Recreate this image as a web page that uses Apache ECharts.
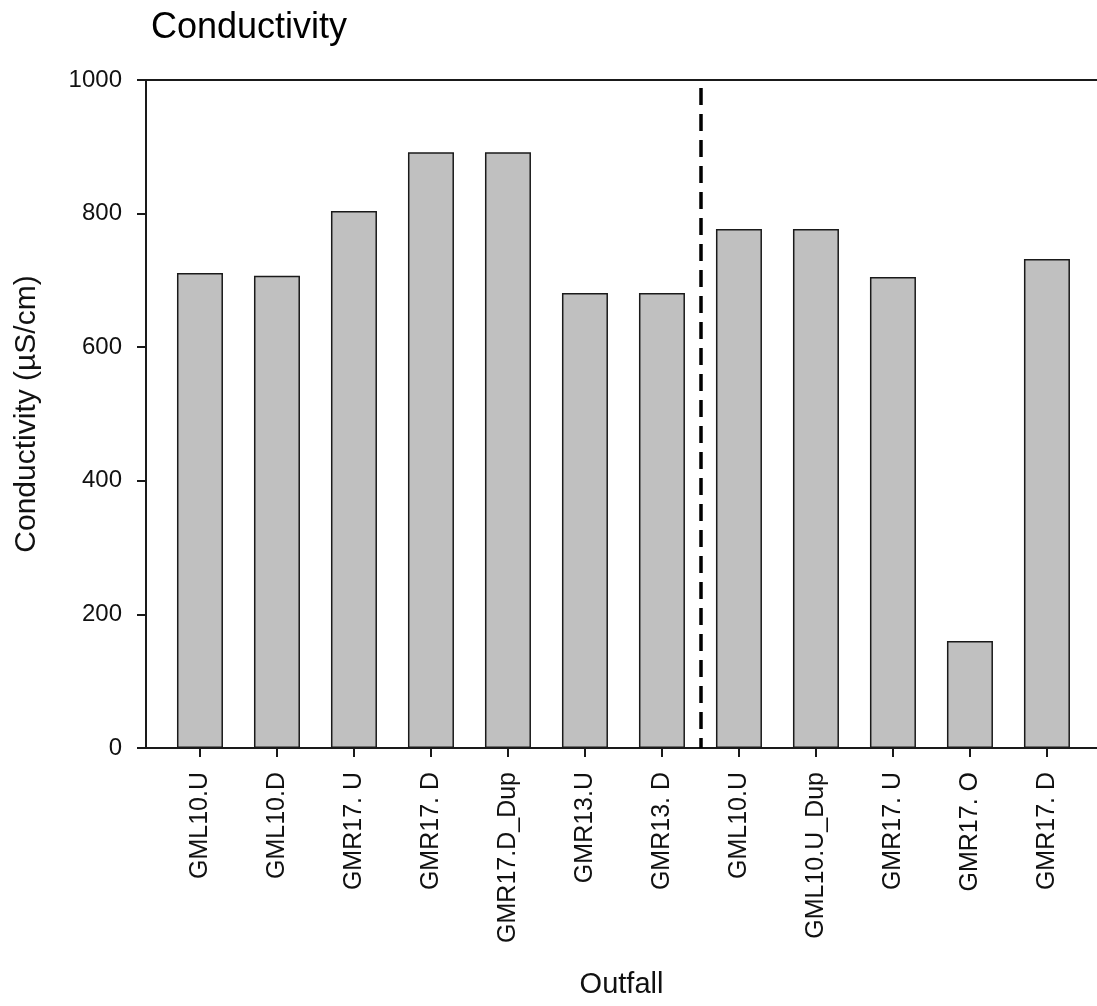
<!DOCTYPE html>
<html>
<head>
<meta charset="utf-8">
<script src="https://cdn.jsdelivr.net/npm/echarts@6/dist/echarts.min.js"></script>
<style>
  html, body { margin: 0; padding: 0; background: #fff; }
  #main { width: 1097px; height: 1006px; }
</style>
</head>
<body>
<div id="main"></div>
<script>
// outfall sites, in plotted order
var categories = ["GML10.U", "GML10.D", "GMR17. U", "GMR17. D", "GMR17.D_Dup", "GMR13.U", "GMR13. D",
  "GML10.U", "GML10.U_Dup", "GMR17. U", "GMR17. O", "GMR17. D"];
// conductivity (µS/cm)
var conductivity = [711, 707, 804, 892, 892, 681, 681, 777, 777, 705, 160, 732];
var yTicks = [0, 200, 400, 600, 800, 1000];
var dividerAt = 6.5; // dashed separator between the two groups

var font = "'Liberation Sans', Arial, sans-serif";
var barData = conductivity.map(function (v, i) { return [i, v]; });
var tickPos = categories.map(function (c, i) { return i; });

var chart = echarts.init(document.getElementById("main"));
chart.setOption({
  animation: false,
  backgroundColor: "#fff",
  title: {
    text: "Conductivity",
    left: 146,
    top: 5,
    textStyle: { fontFamily: font, fontSize: 36, fontWeight: "normal", color: "#000" }
  },
  grid: { left: 146, right: 0, top: 80, bottom: 258 },
  xAxis: [
    {
      type: "value",
      min: -0.701,
      max: 11.65,
      name: "Outfall",
      nameLocation: "middle",
      nameGap: 222,
      nameTextStyle: { fontFamily: font, fontSize: 29, color: "#111" },
      axisLine: { show: true, onZero: false, lineStyle: { color: "#1a1a1a", width: 2 } },
      axisTick: { show: true, customValues: tickPos, length: 9, lineStyle: { color: "#1a1a1a", width: 2 } },
      axisLabel: {
        customValues: tickPos,
        rotate: 90,
        margin: 24,
        fontFamily: font,
        fontSize: 25,
        color: "#111",
        formatter: function (v) { return categories[Math.round(v)]; }
      },
      splitLine: { show: false }
    },
    {
      type: "value",
      position: "top",
      min: -0.701,
      max: 11.65,
      axisLine: { show: true, onZero: false, lineStyle: { color: "#1a1a1a", width: 2 } },
      axisTick: { show: false },
      axisLabel: { show: false },
      splitLine: { show: false }
    }
  ],
  yAxis: {
    type: "value",
    min: 0,
    max: 1000,
    interval: 200,
    name: "Conductivity (µS/cm)",
    nameLocation: "middle",
    nameGap: 104,
    nameTextStyle: { fontFamily: font, fontSize: 30, color: "#111" },
    axisLine: { show: true, onZero: false, lineStyle: { color: "#1a1a1a", width: 2 } },
    axisTick: { show: true, length: 9, lineStyle: { color: "#1a1a1a", width: 2 } },
    axisLabel: {
      margin: 24,
      fontFamily: font,
      fontSize: 24,
      color: "#111",
      formatter: function (v) { return yTicks.indexOf(v) >= 0 ? String(v) : ""; }
    },
    splitLine: { show: false }
  },
  series: [
    {
      type: "bar",
      xAxisIndex: 0,
      data: barData,
      barWidth: 46,
      itemStyle: { color: "#c0c0c0", borderColor: "#1a1a1a", borderWidth: 1.5 },
      markLine: {
        silent: true,
        symbol: "none",
        label: { show: false },
        lineStyle: { color: "#000", width: 3.5, type: [17, 9] },
        data: [[{ coord: [dividerAt, 988] }, { coord: [dividerAt, 0] }]]
      }
    }
  ]
});
</script>
</body>
</html>
